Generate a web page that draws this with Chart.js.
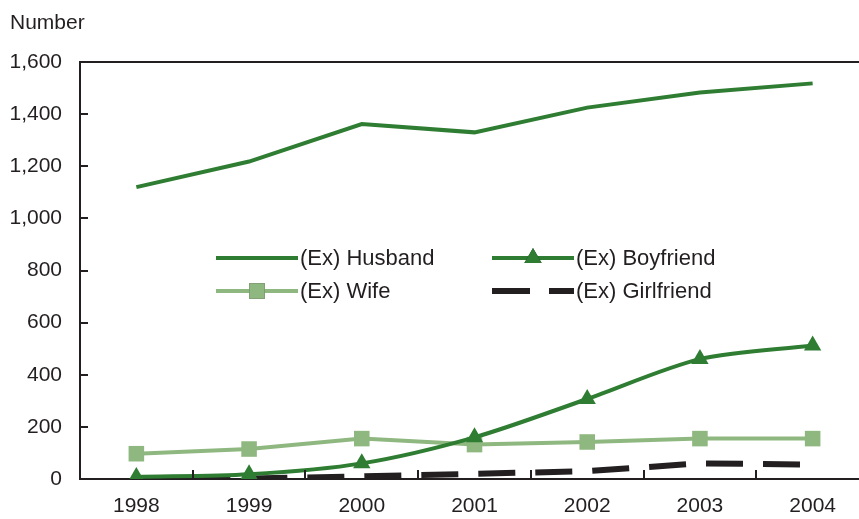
<!DOCTYPE html>
<html>
<head>
<meta charset="utf-8">
<script src="https://cdn.jsdelivr.net/npm/chart.js@4"></script>
<style>
  html, body { margin: 0; padding: 0; background: #fff; overflow: hidden; width: 859px; height: 519px; }
  #wrap { position: absolute; left: 0; top: 0; }
  #ylabel { position: absolute; left: 10px; top: 10px; font: 21px "Liberation Sans", Arial, sans-serif; color: #231f20; }
</style>
</head>
<body>
<div id="wrap"><canvas id="lineChart" width="880" height="519"></canvas></div>
<div id="ylabel">Number</div>
<script>
// Chart data
const years = ['1998', '1999', '2000', '2001', '2002', '2003', '2004'];
const husband = [1120, 1218, 1362, 1330, 1425, 1483, 1518];
const boyfriend = [8, 18, 60, 160, 307, 460, 512];
const wife = [97, 115, 155, 132, 142, 155, 155];
const girlfriend = [0, 2, 10, 20, 30, 60, 55];
const seriesNames = ['(Ex) Husband', '(Ex) Boyfriend', '(Ex) Wife', '(Ex) Girlfriend'];

const darkGreen = '#2f7d32';
const lightGreen = '#8fb880';
const black = '#231f20';
const font = '"Liberation Sans", Arial, sans-serif';

// draws the frame ticks, top border and the in-plot legend
const extras = {
    id: 'extras',
    afterDraw(chart) {
        const c = chart.ctx;
        const area = chart.chartArea;
        const y = chart.scales.y;
        const x = chart.scales.x;
        c.save();
        c.strokeStyle = black;
        c.lineWidth = 2;
        // top border
        c.beginPath();
        c.moveTo(area.left, area.top);
        c.lineTo(area.right, area.top);
        c.stroke();
        // y ticks, inward
        y.ticks.forEach(t => {
            const py = Math.round(y.getPixelForValue(t.value));
            c.beginPath();
            c.moveTo(area.left, py);
            c.lineTo(area.left + 8, py);
            c.stroke();
        });
        // x ticks between categories, upward
        for (let i = 1; i < years.length; i++) {
            const px = Math.round((x.getPixelForValue(i - 1) + x.getPixelForValue(i)) / 2);
            c.beginPath();
            c.moveTo(px, area.bottom);
            c.lineTo(px, area.bottom - 9);
            c.stroke();
        }

        // legend
        const items = [
            { ds: 0, lx: 216, ly: 258 },
            { ds: 1, lx: 492, ly: 258 },
            { ds: 2, lx: 216, ly: 291 },
            { ds: 3, lx: 492, ly: 291 }
        ];
        c.font = '22px ' + font;
        c.textBaseline = 'middle';
        items.forEach(it => {
            const ds = chart.data.datasets[it.ds];
            c.strokeStyle = ds.borderColor;
            c.lineWidth = ds.borderWidth;
            c.beginPath();
            if (ds.borderDash) {
                c.moveTo(it.lx, it.ly);
                c.lineTo(it.lx + 38, it.ly);
                c.moveTo(it.lx + 57, it.ly);
                c.lineTo(it.lx + 82, it.ly);
            } else {
                c.moveTo(it.lx, it.ly);
                c.lineTo(it.lx + 82, it.ly);
            }
            c.stroke();
            if (ds.pointStyle && ds.pointRadius > 0) {
                Chart.helpers.drawPoint(c, {
                    pointStyle: ds.pointStyle,
                    radius: ds.pointRadius,
                    rotation: 0,
                    borderWidth: 0
                }, it.lx + 41, it.ly);
                c.fillStyle = ds.pointBackgroundColor;
                c.fill();
            }
            c.fillStyle = black;
            c.fillText(ds.label, it.lx + 84, it.ly + 1);
        });
        c.restore();
    }
};

const ctx = document.getElementById('lineChart').getContext('2d');
new Chart(ctx, {
    type: 'line',
    data: {
        labels: years,
        datasets: [
            {
                label: seriesNames[0],
                data: husband,
                borderColor: darkGreen,
                borderWidth: 4,
                pointRadius: 0,
                pointStyle: false,
                tension: 0
            },
            {
                label: seriesNames[1],
                data: boyfriend,
                borderColor: darkGreen,
                backgroundColor: darkGreen,
                pointBackgroundColor: darkGreen,
                borderWidth: 4,
                pointStyle: 'triangle',
                pointRadius: 10,
                pointBorderWidth: 0,
                tension: 0.3
            },
            {
                label: seriesNames[2],
                data: wife,
                borderColor: lightGreen,
                backgroundColor: lightGreen,
                pointBackgroundColor: lightGreen,
                borderWidth: 4,
                pointStyle: 'rect',
                pointRadius: 11,
                pointBorderWidth: 0,
                tension: 0
            },
            {
                label: seriesNames[3],
                data: girlfriend,
                borderColor: black,
                borderWidth: 6,
                borderDash: [37, 20],
                pointRadius: 0,
                pointStyle: false,
                tension: 0
            }
        ]
    },
    options: {
        responsive: false,
        devicePixelRatio: 1,
        animation: false,
        layout: {
            padding: { top: 62, right: 11, left: 0, bottom: 0 }
        },
        plugins: {
            legend: { display: false },
            title: { display: false },
            tooltip: { enabled: false }
        },
        scales: {
            x: {
                offset: true,
                grid: { display: false },
                border: { display: true, color: black, width: 2 },
                ticks: { color: black, font: { family: font, size: 21 }, padding: 7, maxRotation: 0 },
                afterFit(scale) { scale.height = 40; }
            },
            y: {
                min: 0,
                max: 1600,
                grid: { display: false },
                border: { display: true, color: black, width: 2 },
                ticks: {
                    stepSize: 200,
                    color: black,
                    font: { family: font, size: 21 },
                    padding: 10,
                    callback: v => v.toLocaleString('en-US')
                },
                afterFit(scale) { scale.width = 80; }
            }
        }
    },
    plugins: [extras]
});
</script>
</body>
</html>
